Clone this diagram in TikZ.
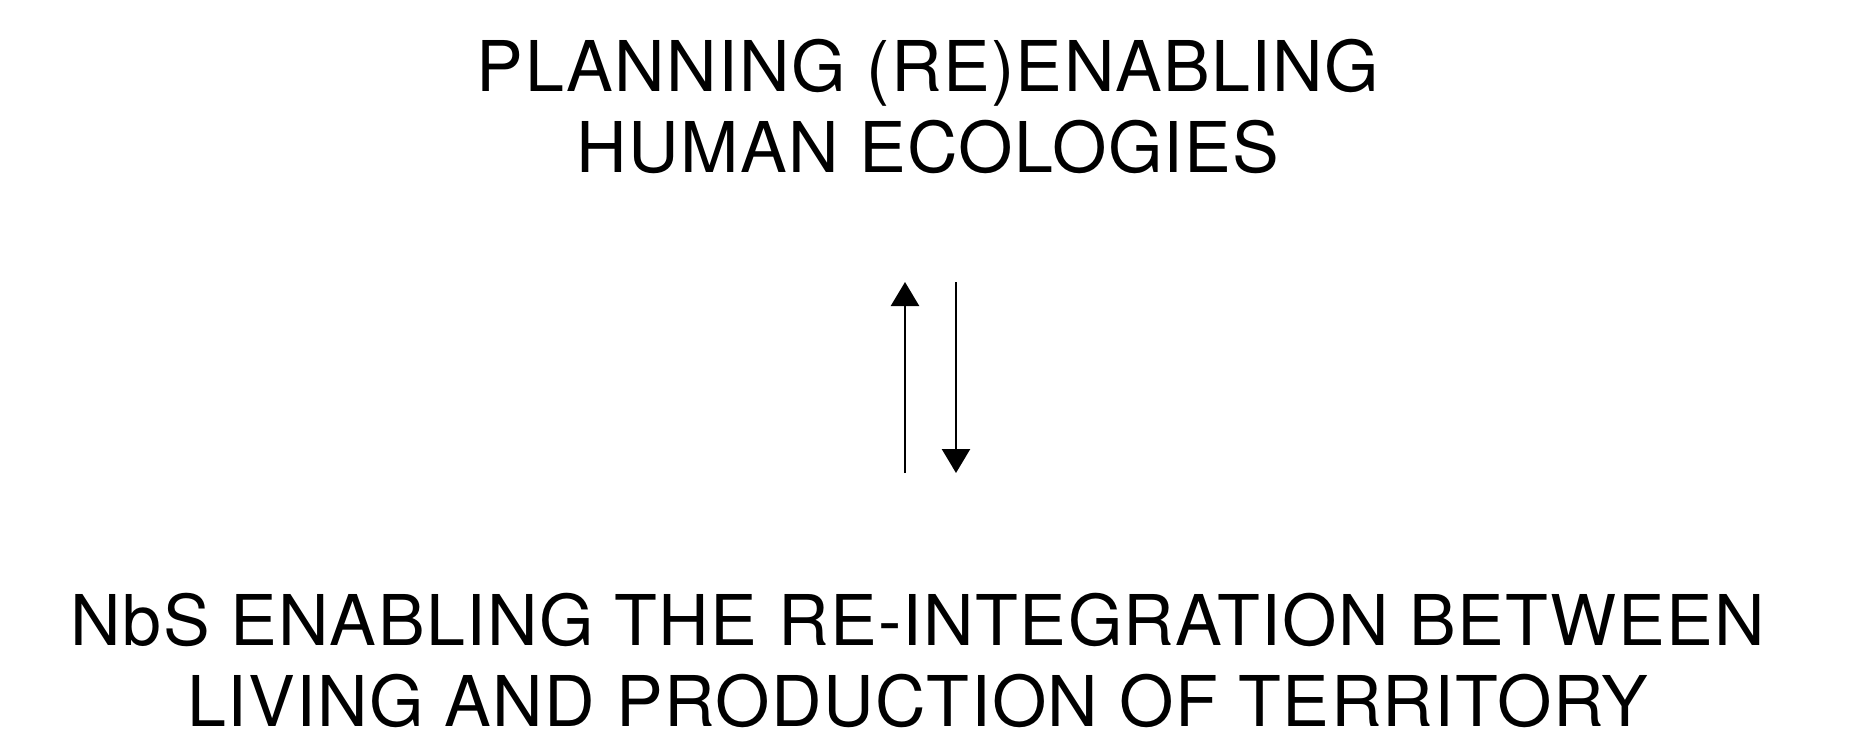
\documentclass[tikz,border=0pt]{standalone}
\usepackage{fontspec}
\setmainfont{TeX Gyre Heros}[LetterSpace=2]
\usetikzlibrary{arrows.meta}

\begin{document}
\begin{tikzpicture}[x=1pt,y=-1pt,
  title/.style={font=\fontsize{70}{81}\selectfont, align=center, inner sep=0pt, text depth=0pt},
  flow/.style={line width=2.5pt, -{Triangle[width=28pt,length=24pt]}}]
\useasboundingbox (0,0) rectangle (1857,737);
\node[title, anchor=base] (ecologies) at (928,172) {PLANNING (RE)ENABLING\\HUMAN ECOLOGIES};
\node[title, anchor=base] (nbs) at (918,726) {NbS ENABLING THE RE-INTEGRATION BETWEEN\\LIVING AND PRODUCTION OF TERRITORY};
% two-way link between the blocks
\coordinate (upfoot) at (905,473);
\coordinate (uptip) at (905,282);
\coordinate (downfoot) at (956,282);
\coordinate (downtip) at (956,473);
\draw[flow] (upfoot) -- (uptip);
\draw[flow] (downfoot) -- (downtip);
\end{tikzpicture}
\end{document}
